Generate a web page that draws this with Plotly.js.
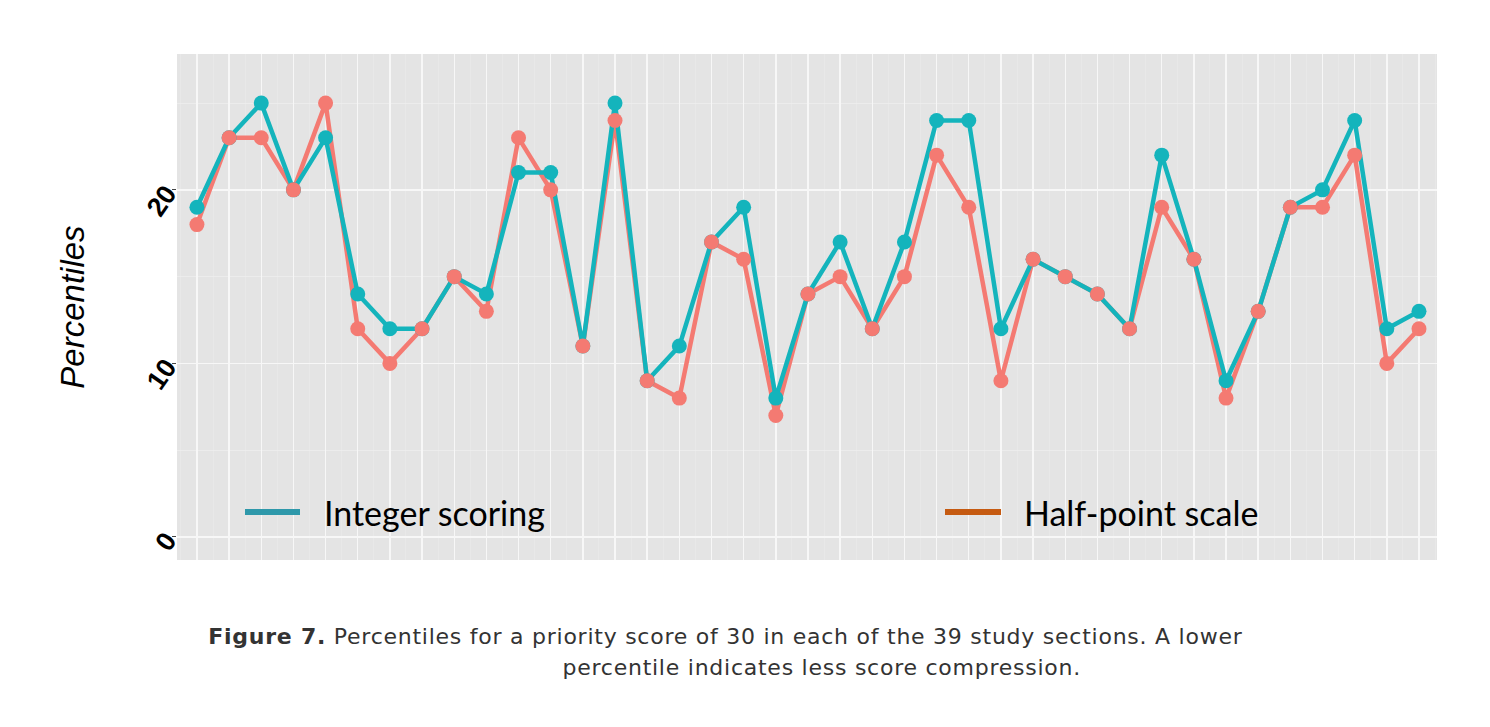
<!DOCTYPE html>
<html>
<head>
<meta charset="utf-8">
<script src="https://cdn.plot.ly/plotly-3.0.1.min.js"></script>
<style>
html,body{margin:0;padding:0;background:#fff;} #chart{width:1490px;height:727px;}
.annotation[data-index="2"] .annotation-text, .annotation[data-index="3"] .annotation-text {letter-spacing: 0.75px;}
</style>
</head>
<body>
<div id="chart"></div>
<script>
// 39 study sections
var sections = Array.from({length: 39}, function(_, i){ return i + 1; });
var integerScoring = [19,23,25,20,23,14,12,12,15,14,21,21,11,25,9,11,17,19,8,14,17,12,17,24,24,12,16,15,14,12,22,16,9,13,19,20,24,12,13];
var halfPointScale = [18,23,23,20,25,12,10,12,15,13,23,20,11,24,9,8,17,16,7,14,15,12,15,22,19,9,16,15,14,12,19,16,8,13,19,19,22,10,12];
var yTickVals = [0, 10, 20];
var yTickText = ['0', '10', '20'];
var legendLabels = ['Integer scoring', 'Half-point scale'];
var captionBold = 'Figure 7.';
var captionLine1 = ' Percentiles for a priority score of 30 in each of the 39 study sections. A lower';
var captionLine2 = 'percentile indicates less score compression.';

var teal = '#14B4BC';
var red = '#F47A72';

var traces = [
  {x: sections, y: halfPointScale, mode: 'lines', line: {color: red, width: 4.5}, hoverinfo: 'skip', showlegend: false},
  {x: sections, y: integerScoring, mode: 'lines', line: {color: teal, width: 4.5}, hoverinfo: 'skip', showlegend: false},
  {x: sections, y: integerScoring, mode: 'markers', marker: {color: teal, size: 15}, showlegend: false},
  {x: sections, y: halfPointScale, mode: 'markers', marker: {color: red, size: 15}, showlegend: false}
];

var PL = 177, PW = 1260, PB = 560, PH = 506;
function px(x){ return (x - PL) / PW; }
function py(y){ return (PB - y) / PH; }

var layout = {
  width: 1490, height: 727,
  margin: {l: PL, r: 1490 - PL - PW, t: PB - PH, b: 727 - PB, pad: 0},
  paper_bgcolor: '#ffffff',
  plot_bgcolor: '#E4E4E4',
  showlegend: false,
  xaxis: {
    range: [0.38, 39.56],
    tickvals: sections,
    showticklabels: false,
    ticks: '',
    showgrid: true, gridcolor: '#F7F7F7', gridwidth: 1.4,
    minor: {dtick: 0.5, tick0: 0.5, showgrid: true, gridcolor: '#E8E8E8', gridwidth: 0.8},
    zeroline: false, showline: false, fixedrange: true
  },
  yaxis: {
    range: [-1.33, 27.83],
    tickvals: yTickVals, ticktext: yTickText,
    tickangle: -55,
    tickfont: {family: 'Liberation Sans, Arial, sans-serif', size: 27, color: '#000', weight: 'bold'},
    ticks: 'outside', ticklen: 4, tickcolor: '#444', tickwidth: 1,
    showgrid: true, gridcolor: '#F7F7F7', gridwidth: 1.4,
    minor: {tickvals: [5, 15, 25], showgrid: true, gridcolor: '#EEEEEE', gridwidth: 0.8},
    zeroline: false, showline: false, fixedrange: true,
    title: {text: 'Percentiles', font: {family: 'Liberation Sans, Arial, sans-serif', size: 33, color: '#000', style: 'italic'}, standoff: 46}
  },
  shapes: [
    {type: 'line', xref: 'paper', yref: 'paper', x0: px(245), x1: px(300), y0: py(512), y1: py(512), line: {color: '#2E98AA', width: 6}},
    {type: 'line', xref: 'paper', yref: 'paper', x0: px(945), x1: px(1001), y0: py(512), y1: py(512), line: {color: '#C55A11', width: 6}}
  ],
  annotations: [
    {text: legendLabels[0], xref: 'paper', yref: 'paper', x: px(322), y: py(512), xanchor: 'left', yanchor: 'middle', showarrow: false, font: {family: 'Lato, sans-serif', size: 34, color: '#000'}},
    {text: legendLabels[1], xref: 'paper', yref: 'paper', x: px(1022), y: py(512), xanchor: 'left', yanchor: 'middle', showarrow: false, font: {family: 'Lato, sans-serif', size: 34, color: '#000'}},
    {text: '<b>' + captionBold + '</b>' + captionLine1, xref: 'paper', yref: 'paper', x: px(726), y: py(636), xanchor: 'center', yanchor: 'middle', showarrow: false, font: {family: 'DejaVu Sans, sans-serif', size: 22, color: '#333'}},
    {text: captionLine2, xref: 'paper', yref: 'paper', x: px(822), y: py(667), xanchor: 'center', yanchor: 'middle', showarrow: false, font: {family: 'DejaVu Sans, sans-serif', size: 22, color: '#333'}}
  ]
};

Plotly.newPlot('chart', traces, layout, {displayModeBar: false, staticPlot: true});
</script>
</body>
</html>
